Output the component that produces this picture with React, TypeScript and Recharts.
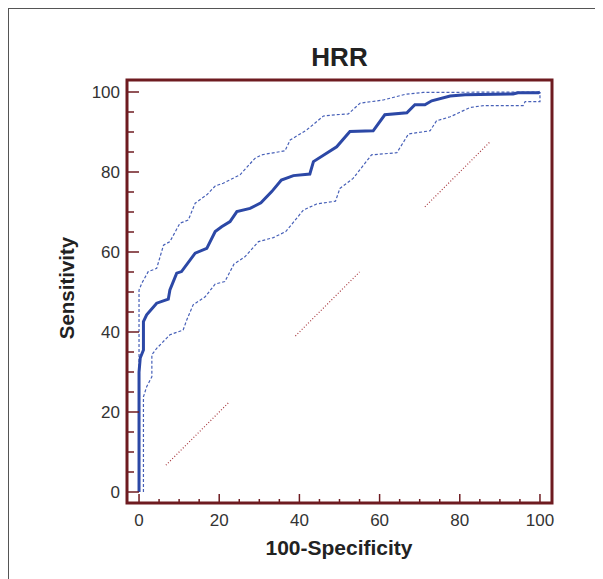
import { LineChart, Line, XAxis, YAxis, ReferenceArea } from "recharts";

// ROC curve for HRR: [100-specificity, sensitivity]
const rocCurve: [number, number][] = [
  [0, 0], [0, 30], [0.3, 33.5], [1.1, 35.5], [1.1, 42.6], [1.9, 44.3], [4.4, 47.2],
  [7.3, 48.2], [7.7, 50.5], [9.4, 54.7], [10.6, 55.1], [14, 59.7], [16.9, 60.9],
  [19, 65.1], [20.6, 66.3], [22.7, 67.6], [24.4, 70.1], [27.7, 70.9], [30.4, 72.3],
  [33.1, 75.1], [35.5, 78], [38.5, 79.1], [42.6, 79.5], [43.5, 82.6], [49.3, 86.3],
  [52.6, 90.1], [58.4, 90.3], [61.3, 94.3], [66.8, 94.8], [68.8, 96.8], [71.3, 96.8],
  [73, 97.8], [77.6, 99], [81.3, 99.3], [93.3, 99.5], [94.5, 99.8], [99.6, 99.8],
  [100, 100],
];

const upperBound: [number, number][] = [
  [0, 0], [0, 50.5], [0.7, 52.2], [2.3, 55.1], [4.4, 55.9], [6.1, 61.7], [7.7, 62.6],
  [10.2, 67.2], [12.3, 68], [14, 72.2], [16.9, 74.3], [19, 76.5], [21, 77.2],
  [25.2, 79.3], [28.9, 83.4], [30.6, 84.3], [36.4, 85.3], [37.7, 88], [41.8, 90.5],
  [46, 94], [48.9, 94.3], [52.2, 94.5], [55.1, 97.2], [60.9, 98], [66.3, 99.4],
  [70.9, 99.9], [100, 100],
];

const lowerBound: [number, number][] = [
  [1.1, 0], [1.1, 23.8], [1.9, 26.3], [3.2, 28.8], [3.2, 34.3], [4.4, 35.9],
  [7.7, 39.3], [11, 40.5], [11.9, 43], [13.5, 46.8], [16.5, 48.8], [19, 52],
  [21.4, 52.6], [23.7, 57], [26.4, 58.8], [29.8, 62.6], [33.5, 63.6], [36.6, 65.1],
  [39.3, 68.4], [41, 70.5], [44.3, 72], [49, 72.7], [50.1, 75.9], [53.4, 78.4],
  [58, 84.3], [64.3, 84.8], [67.2, 89.5], [72.6, 90.3], [74.2, 92.8], [77.6, 93.8],
  [82.5, 96.1], [85.9, 96.6], [95.8, 96.6], [96.3, 97.6], [100, 97.6], [100, 100],
];

// broken diagonal reference line (start, end along y = x)
const diagonalSegments: [number, number][] = [
  [6.7, 22.3],
  [39, 55],
  [71.3, 87.6],
];

const axisTicks = [0, 5, 10, 15, 20, 25, 30, 35, 40, 45, 50, 55, 60, 65, 70, 75, 80, 85, 90, 95, 100];
const labelledTicks = [0, 20, 40, 60, 80, 100];

const FRAME = "#6e1b20";
const BLUE = "#2c48a6";
const CI_BLUE = "#4760b8";
const DIAG = "#a83a40";
const FONT = "'Liberation Sans', Arial, sans-serif";

const toPoints = (pts: [number, number][]) => pts.map(([x, y]) => ({ x, y }));

const YTick = (props: any) => {
  const { x, y, payload } = props;
  const v = payload.value as number;
  const major = labelledTicks.includes(v);
  return (
    <g>
      <line x1={x} x2={x + (major ? 12 : 7)} y1={y} y2={y} stroke={FRAME} strokeWidth={1.5} />
      {major && (
        <text x={x - 7} y={y} dy={6} textAnchor="end" fontSize={17} fill="#333" fontFamily={FONT}>
          {v}
        </text>
      )}
    </g>
  );
};

const XTick = (props: any) => {
  const { x, y, payload } = props;
  const v = payload.value as number;
  const major = labelledTicks.includes(v);
  return (
    <g>
      <line x1={x} x2={x} y1={y} y2={y - (major ? 9 : 4)} stroke={FRAME} strokeWidth={1.5} />
      {major && (
        <text x={x} y={y} dy={23} textAnchor="middle" fontSize={17} fill="#333" fontFamily={FONT}>
          {v}
        </text>
      )}
    </g>
  );
};

export default function App() {
  return (
    <div
      style={{
        position: "relative",
        width: 594,
        height: 570,
        borderTop: "1px solid #555",
        borderLeft: "1px solid #555",
      }}
    >
      <div style={{ position: "absolute", left: -9, top: -9 }}>
        <LineChart width={603} height={579} margin={{ top: 80, right: 51, bottom: 36, left: 67 }}>
          <text x={339.5} y={66} textAnchor="middle" fontSize={26} fontWeight="bold" fill="#222" fontFamily={FONT}>
            HRR
          </text>
          <XAxis
            dataKey="x"
            type="number"
            domain={[-3, 103]}
            ticks={axisTicks}
            allowDataOverflow
            axisLine={false}
            tickLine={false}
            tickSize={0}
            tickMargin={0}
            height={40}
            tick={<XTick />}
            interval={0}
          />
          <YAxis
            dataKey="y"
            type="number"
            domain={[-2.75, 103]}
            ticks={axisTicks}
            allowDataOverflow
            axisLine={false}
            tickLine={false}
            tickSize={0}
            tickMargin={0}
            width={60}
            tick={<YTick />}
            interval={0}
          />
          <ReferenceArea
            x1={-3}
            x2={103}
            y1={-2.75}
            y2={103}
            fill="none"
            stroke={FRAME}
            strokeWidth={3}
            ifOverflow="visible"
          />
          {diagonalSegments.map(([a, b], i) => (
            <Line
              key={"diag" + i}
              data={[{ x: a, y: a }, { x: b, y: b }]}
              dataKey="y"
              type="linear"
              stroke={DIAG}
              strokeWidth={1.2}
              strokeDasharray="1 2"
              dot={false}
              activeDot={false}
              isAnimationActive={false}
            />
          ))}
          <Line
            data={toPoints(upperBound)}
            dataKey="y"
            type="linear"
            stroke={CI_BLUE}
            strokeWidth={1.2}
            strokeDasharray="3 2"
            dot={false}
            activeDot={false}
            isAnimationActive={false}
          />
          <Line
            data={toPoints(lowerBound)}
            dataKey="y"
            type="linear"
            stroke={CI_BLUE}
            strokeWidth={1.2}
            strokeDasharray="3 2"
            dot={false}
            activeDot={false}
            isAnimationActive={false}
          />
          <Line
            data={toPoints(rocCurve)}
            dataKey="y"
            type="linear"
            stroke={BLUE}
            strokeWidth={3}
            dot={false}
            activeDot={false}
            isAnimationActive={false}
          />
        </LineChart>
        <div
          style={{
            position: "absolute",
            left: 67,
            top: 288,
            transform: "translate(-50%, -50%) rotate(-90deg)",
            fontFamily: FONT,
            fontWeight: "bold",
            fontSize: 20.5,
            color: "#222",
            whiteSpace: "nowrap",
          }}
        >
          Sensitivity
        </div>
        <div
          style={{
            position: "absolute",
            left: 339,
            top: 548,
            transform: "translate(-50%, -50%)",
            fontFamily: FONT,
            fontWeight: "bold",
            fontSize: 21,
            color: "#222",
            whiteSpace: "nowrap",
          }}
        >
          100-Specificity
        </div>
      </div>
    </div>
  );
}
